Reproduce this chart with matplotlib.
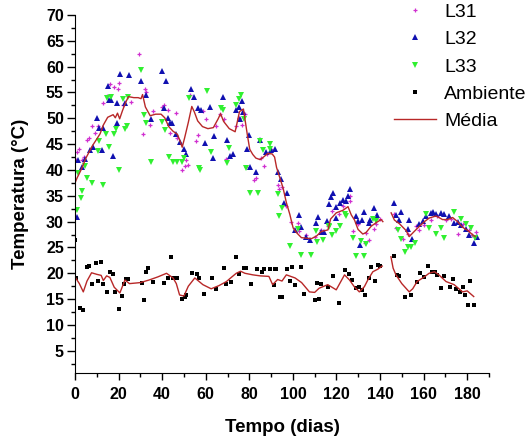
import numpy as np
import matplotlib
matplotlib.use("Agg")
import matplotlib.pyplot as plt
from matplotlib.ticker import MultipleLocator

plt.rcParams['font.family'] = ['Liberation Sans', 'DejaVu Sans']

# L31 (t, temperatura)
l31_t = [0.5, 1, 2, 3, 4, 5.4, 6.4, 8, 9, 10.5, 13, 14.5, 16, 17.9, 19.7, 20.3, 22, 25.7,
         29.5, 31, 32, 32.8, 34.4, 36, 39.9, 40.8, 42.9, 43.8, 46.4, 46.6, 49.3, 50.3, 50.9,
         52, 52.6, 55.7, 56.6, 58.7, 60.3, 64.8, 66.4, 68.4, 69.5, 73.9, 75.3, 76.5, 77.9,
         78.5, 82, 83.2, 85.5, 86.6, 88, 90, 93.1, 93.4, 95, 97, 99, 102.3, 103, 106, 110,
         113, 116, 118, 121, 123, 126, 126.3, 127.5, 130, 133.2, 133.6, 135, 137.4, 138.2,
         140, 146.6, 147.4, 150.4, 152.7, 156.4, 158.1, 160.4, 163.4, 166, 170.3, 172.6,
         175.6, 177.9, 180.9, 182.4, 184]
l31_v = [42, 43.5, 44, 42, 42.5, 45.8, 46.2, 48.6, 47.1, 48.5, 52.9, 54.3, 56.7, 56, 55.6,
         56.9, 52.5, 53.1, 62.4, 46.9, 55.7, 55, 48.7, 51.5, 52.2, 52.6, 51.6, 47.1, 51, 46.2,
         40, 40.7, 42, 40.9, 54.5, 45.7, 46.7, 51.5, 49.8, 48.6, 50.8, 49.8, 42.1, 48.6, 50.1,
         48.8, 50.8, 40.5, 38.1, 38.4, 42.3, 40.7, 43, 44, 37, 36.3, 36.8, 33, 30, 29.7, 28.1,
         27.5, 27, 28.4, 29.1, 32, 31.5, 33, 33.9, 35, 28.1, 29.5, 25.8, 27.8, 26.4, 28.5,
         29.5, 30.5, 31.5, 28.7, 26.6, 27.6, 29.1, 28.4, 29.4, 30.3, 31, 30.3, 30.6, 27.6,
         29.6, 28.4, 27.5, 28]

# L32
l32_t = [0.8, 1.5, 3, 4.6, 6.9, 8.4, 9.9, 11.1, 12.2, 13, 15.3, 15.7, 16.7, 17.5, 19.1,
         19.5, 20.8, 22.9, 24.6, 30.5, 32.8, 35.1, 39.7, 41.7, 40.8, 42.8, 43.5, 44.5, 46.3,
         48.1, 50.1, 50.8, 53.2, 54.8, 56.5, 58, 59.6, 61.8, 63.5, 64, 67.8, 69.8, 71.3,
         72.3, 74, 75.3, 75.6, 76.6, 77.3, 78.8, 79.9, 80.1, 82.9, 84.7, 87.8, 90.1, 91.6,
         93.1, 94.6, 95.8, 97.3, 100.8, 102.8, 103.8, 106, 108, 110.7, 111.4, 112.9, 114.5,
         115.8, 116.8, 117.6, 118.3, 119.8, 119.9, 121.4, 123, 124.2, 125.3, 126.4, 129,
         129.7, 130.6, 131.6, 132.6, 134.9, 135.5, 137.4, 138.6, 146.6, 147.4, 148.9, 149.7,
         152.7, 153.4, 154.7, 158.1, 159.6, 161.1, 163.4, 164.2, 165.7, 168, 169.5, 171.8,
         174.1, 175.6, 177.1, 179.4, 180.9, 183.2, 184.5]
l32_v = [30.9, 42, 40.5, 42.1, 43.9, 44.4, 50.1, 48.1, 43.9, 48.1, 56.2, 53.6, 53.6, 42.8,
         49, 52.9, 58.6, 52.9, 58.4, 57.3, 54.6, 49.8, 59.1, 57.2, 52, 50.1, 49, 49, 47, 45.5,
         44, 43, 55.7, 54.1, 52, 51.6, 45.2, 52.2, 42.4, 46.5, 54.2, 45.8, 42.8, 43, 51.6,
         52.2, 49.8, 53.4, 51.3, 44.1, 46.8, 40.5, 39.7, 45.8, 43.4, 43.9, 44.1, 39.7, 38.3,
         33.6, 35.6, 28.4, 31.3, 29, 27, 26.5, 29.7, 30.9, 28, 28, 30.2, 33.5, 34.8, 35.6,
         32.9, 30.7, 33.6, 34.2, 33.9, 34.9, 36.3, 31, 30.1, 25.5, 30.3, 31.8, 29.8, 30.3,
         32.6, 31.3, 33.7, 31.3, 30.3, 31.9, 28.5, 30.3, 26.6, 29.5, 30.1, 31, 31.7, 31.9,
         31.5, 31.7, 31.4, 31, 29.8, 29.9, 29.4, 28.5, 27.5, 25.9, 27]

# L33
l33_t = [0.8, 1.5, 2.6, 3.2, 4.6, 5.6, 7.6, 10.4, 11.2, 12.8, 14.2, 14.8, 15.7, 16.7, 17.9,
         18.6, 20.4, 21.8, 22.9, 24, 24.2, 30.5, 31.6, 32.8, 34.8, 39.7, 41.5, 43.3, 45,
         46.9, 48.9, 50, 52.4, 56.9, 57.5, 60.6, 62.6, 66.8, 67.7, 69.6, 70.6, 73.9, 75.3,
         76.4, 77.6, 78.3, 80.1, 84, 85.1, 86.3, 89.4, 89.7, 93.1, 93.6, 95.1, 98.5, 102.4,
         103.8, 108.3, 110.6, 111, 114, 116.6, 116.8, 118, 119.9, 121.4, 123.7, 124.5, 127.5,
         129, 131.3, 132.5, 133.6, 136.6, 138, 148.1, 149.7, 151.6, 152.7, 154.2, 156.2,
         161.1, 162.6, 165.7, 168, 169.5, 174.1, 177.1, 179.4, 181.7, 183.7]
l33_v = [32.3, 39.5, 34.5, 36, 40.8, 38.5, 37.4, 43.7, 45.6, 37.1, 47, 53.9, 44.5, 54.1,
         46.9, 48, 40, 53.7, 48, 48.6, 54.2, 59.4, 50.6, 49, 41.6, 49.2, 47.7, 42.6, 41.6,
         41.5, 41.5, 42.4, 54, 40.3, 40, 55.2, 43.4, 52, 51.6, 41.3, 44.2, 52.5, 53.8, 54.5,
         49.8, 40.3, 35.5, 35.5, 45.6, 43.9, 45.1, 44, 35.3, 31, 32.6, 25.2, 28.5, 23.5, 23.5,
         28.1, 26, 26.5, 29.1, 28.9, 27.5, 28.1, 29.1, 31.4, 31, 26.8, 23.4, 26.2, 23.4, 25.7,
         30.6, 30.2, 28.4, 26.6, 24.2, 25, 25, 25.8, 31.5, 28.7, 27.7, 28.7, 26.8, 31.9, 30.6,
         29.6, 28.7, 26.8]

# Ambiente
amb_t = [0, 0.5, 2.3, 3.8, 5.3, 6.4, 7.6, 9.6, 10.7, 11.8, 13, 14.5, 16, 17.3, 18.5, 20,
         21.4, 22.5, 23.6, 24.5, 30.6, 31.7, 32.8, 33.7, 36, 41, 42.5, 44, 44.9, 46.8, 49.2,
         50.3, 51, 53.8, 56, 57, 59, 63, 64.7, 68.6, 69.3, 71.6, 73.9, 75.4, 77.6, 78.4, 80.6,
         83.7, 86, 86.7, 89.3, 91.3, 91.6, 92.4, 94.3, 95, 97.1, 98.5, 99.8, 101.1, 103.9,
         105, 110, 110.9, 111.8, 112.9, 116, 118.3, 121, 124.1, 125.6, 127.2, 129, 130.2,
         131.8, 133.3, 134.8, 135.9, 137.9, 138.9, 140, 146.3, 147.8, 148.9, 151.6, 154.4,
         157, 158.5, 160, 162, 163.8, 165.4, 166.1, 168.1, 169.2, 172.2, 173.3, 174.8, 176.8,
         178, 179, 180.3, 181.3, 183.1]
amb_v = [26.5, 19, 13.3, 12.8, 21.2, 21.5, 18, 21.9, 18.6, 22.1, 18, 16.4, 20.3, 19.9,
         16.4, 13, 15.6, 18, 18.8, 18.8, 18.2, 14.8, 20.3, 21.1, 18.4, 18.2, 19, 23.1, 19,
         19, 15, 15.5, 15.8, 20, 19.8, 19, 16, 19, 17, 21, 18, 18.4, 23.1, 19.8, 21, 21, 18,
         20.8, 20.2, 20.8, 20.8, 17.8, 20.8, 20.8, 15.5, 15.5, 20.8, 18.6, 21.2, 17.8, 21.2,
         16, 14.8, 18.2, 15, 18, 17.3, 19.5, 14.3, 20.6, 19.8, 18.7, 17.1, 17.3, 16.8, 15.8,
         19, 21.3, 18.6, 21.7, 21.4, 23.3, 19.6, 19.4, 15.4, 15.8, 18.4, 20, 19.2, 21.4,
         20.3, 20.3, 19.7, 17.1, 19.4, 17.4, 18.8, 16.9, 16.4, 17.3, 15.8, 13.9, 18.6, 13.8]

# Média das lâmpadas (nan = falha nos dados)
med_t = [0, 1, 3, 5, 8, 10, 11.5, 13, 15, 17.5, 18.5, 19.5, 20.5, 21.8, 23.2, 24.5, 27, 29,
         30.3, 31, 32.3, 34.5, 37, 39.5, 41.2, 43, 45, 47, 48.2, 49.2, 50.3, 52, 53.6, 54.8,
         56.3, 58.5, 61, 63.5, 65.7, 66.8, 68.2, 70.8, 73.5, 75.5, 77.3, 78.2, 79.1, 80.2,
         81.6, 83, 85, 86.8, 88.5, 90.5, 91.6, 92.5, 94, 95.5, 97, 98.6, 100.1, 101.6, 103.9,
         108.5, 110.8, 113.1, 116.1, 117.3, 119.9, 123, 125.3, 126.8, 128.3, 129.9, 132.1,
         133.6, 135.9, 138.2, 140.5, 141.3, 143, 145.1, 146.6, 148.9, 151.9, 153.4, 155.7,
         158.1, 160.4, 162.6, 165.7, 168.7, 171, 173.3, 175.6, 177.9, 180.2, 182.4, 183.7]
med_v = [37.5, 38.5, 40.2, 42.3, 44.7, 46, 47, 48.7, 50.2, 50.7, 50.1, 51, 49.9, 51.5, 53,
         54.2, 54, 54, 53.8, 54.6, 52.2, 50.5, 50.8, 50.8, 50.1, 48.4, 47.5, 46.9, 45.6, 44.4,
         46.2, 49.2, 52.3, 51.2, 49.5, 48.4, 48, 48.2, 49.9, 50.9, 49.4, 48, 47.4, 51.3, 51.8,
         49.3, 46.8, 44, 43, 42.3, 42, 42.6, 43.2, 43.1, 42.5, 40.5, 38.5, 36.5, 33.7, 31.4,
         28.8, 27.9, 26.9, 26.7, 27.2, 28.1, 28.4, 30.5, 31.7, 32.2, 32.9, 31.3, 30.3, 28.5,
         27.6, 27.9, 29.1, 29.8, 30.4, 30.0, np.nan, 31.7, 30.3, 29.6, 28.3, 27.1, 28.1, 29.1,
         30.0, 30.7, 31.1, 30.4, 30.4, 30.8, 30, 28.9, 28.3, 27.5, 27.1]

amb_med_t = [0, 2, 3.8, 5.5, 7.6, 10, 12, 13, 14.5, 16, 18, 20.6, 22.9, 25, 30, 34, 38, 42,
             45, 46.5, 48, 50, 52, 55, 58.7, 62.5, 66, 69.5, 72, 74, 76, 78, 81.6, 85, 89,
             90.7, 93, 95, 97, 101, 104, 107.6, 110, 112, 116, 119.9, 123.7, 126, 128, 130.5,
             132.8, 134.5, 136.7, 139, 141, 143, 145, 146, 147.3, 150, 153.4, 155, 157, 160,
             162.5, 165, 167, 170.3, 174, 177.9, 180, 183]
amb_med_v = [19.3, 18, 16.4, 18.5, 20.1, 19.8, 19.6, 18.6, 19.5, 19.2, 17.3, 16.2, 18.7,
             18, 18.2, 18.7, 19.3, 20, 19.1, 18, 15.8, 15.6, 17.5, 19.1, 17.8, 17, 17.6, 18.4,
             19.3, 20, 20.4, 20, 19.7, 19.5, 19.4, 17.8, 18.8, 18.5, 19.7, 19.1, 18.2, 16.4,
             16.3, 17.1, 17.8, 16.8, 19.7, 18.7, 17.5, 16.4, 17.4, 18.8, 20.3, 20.8, 21.4,
             np.nan, 23.2, 21, 19.7, 18, 16.4, 17, 18.4, 19.2, 20, 20.3, 19.7, 18.4, 17.8,
             16.4, 16.6, 15.5]

fig = plt.figure(figsize=(5.26, 4.41), dpi=100)
ax = fig.add_axes([0.1426, 0.1542, 0.787, 0.8118])

ax.plot(l31_t, l31_v, '+', color='#d030d0', ms=3.5, mew=0.9, ls='none', label='L31')
ax.plot(l32_t, l32_v, '^', color='#1010b0', ms=4, mew=0, ls='none', label='L32')
ax.plot(l33_t, l33_v, 'v', color='#30f030', ms=4.5, mew=0, ls='none', label='L33')
ax.plot(amb_t, amb_v, 's', color='black', ms=2.2, mew=0, ls='none', label='Ambiente')
ax.plot(med_t, med_v, '-', color='#b82828', lw=1, label='Média')
ax.plot(amb_med_t, amb_med_v, '-', color='#b82828', lw=1)

ax.set_xlim(0, 190)
ax.set_ylim(0.7, 70)
ax.xaxis.set_minor_locator(MultipleLocator(10))
ax.yaxis.set_minor_locator(MultipleLocator(2.5))
ax.set_xticks(np.arange(0, 181, 20))
ax.set_yticks(np.arange(5, 71, 5))
ax.tick_params(axis='x', which='major', direction='out', length=5, width=1, labelsize=11.5, pad=5)
ax.tick_params(axis='y', which='major', direction='out', length=6, width=1, labelsize=11.5, pad=2)
ax.tick_params(which='minor', direction='out', length=3, width=1)
for lab in ax.get_xticklabels() + ax.get_yticklabels():
    lab.set_fontweight('bold')

for s in ['top', 'right']:
    ax.spines[s].set_visible(False)

ax.set_xlabel('Tempo (dias)', fontsize=13.5, fontweight='bold', labelpad=12)
ax.set_ylabel('Temperatura (°C)', fontsize=13.5, fontweight='bold', labelpad=12)

handles, labels = ax.get_legend_handles_labels()
fig.legend(handles, labels, loc='upper right', bbox_to_anchor=(1.005, 0.997),
           frameon=False, fontsize=14, handlelength=2.2, handletextpad=0.4,
           labelspacing=0.5, borderpad=0.1, borderaxespad=0)

fig.savefig('out.png', dpi=100)
